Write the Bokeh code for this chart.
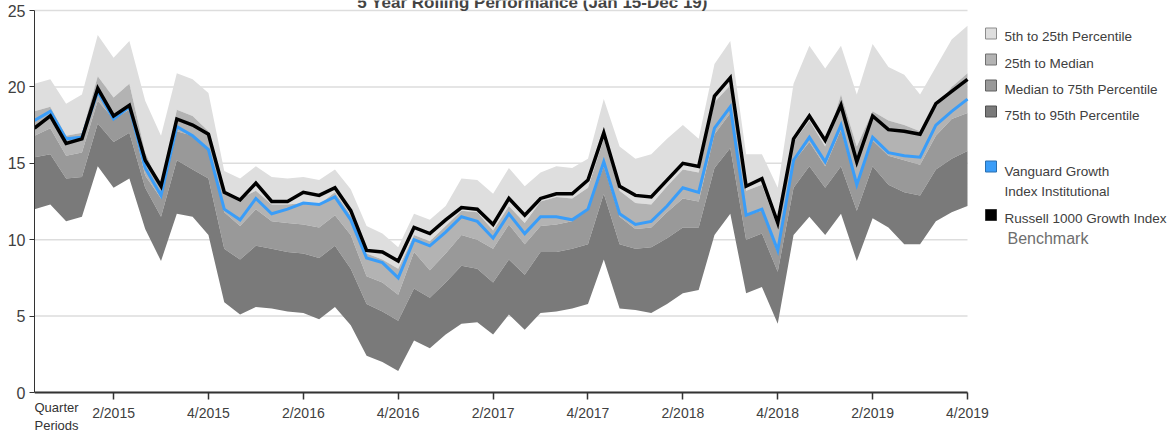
from bokeh.plotting import figure
from bokeh.models import Range1d, FixedTicker, Label, BoxAnnotation, ColumnDataSource
from bokeh.embed import file_html
from bokeh.resources import INLINE

# ---------------- data ----------------
period = list(range(60))  # monthly periods, Jan 2015 .. Dec 2019

p05 = [20.2, 20.5, 18.9, 19.5, 23.4, 21.9, 23.0, 19.1, 16.8, 20.9,
       20.5, 19.6, 14.5, 14.0, 14.8, 14.1, 14.0, 14.1, 13.9, 14.6,
       13.3, 10.9, 10.4, 9.5, 11.7, 11.3, 12.2, 14.0, 13.9, 13.0,
       14.7, 13.5, 14.4, 14.8, 14.7, 15.3, 19.2, 16.1, 15.3, 15.6,
       16.6, 17.5, 16.6, 21.5, 23.0, 15.6, 15.6, 13.4, 20.2, 22.7,
       21.2, 22.7, 19.5, 22.8, 21.3, 20.8, 19.5, 21.3, 23.1, 24.0]
p25 = [18.4, 18.7, 16.8, 17.0, 20.7, 19.3, 20.2, 15.7, 13.4, 18.5,
       18.1, 17.1, 13.1, 12.7, 13.2, 12.3, 12.3, 12.4, 12.3, 13.1,
       11.6, 9.1, 8.7, 8.1, 10.3, 9.9, 10.9, 11.9, 11.8, 10.6,
       12.2, 11.1, 12.5, 12.8, 12.7, 13.4, 16.6, 13.2, 12.4, 12.3,
       13.5, 14.6, 14.4, 19.0, 20.1, 13.2, 13.6, 10.8, 16.4, 17.8,
       16.1, 19.5, 16.1, 18.4, 17.8, 17.5, 17.1, 18.7, 20.0, 20.9]
p50 = [16.8, 17.3, 15.5, 15.7, 19.1, 17.9, 18.5, 14.2, 12.7, 17.1,
       16.8, 15.9, 11.8, 10.9, 12.0, 11.2, 11.1, 11.0, 10.8, 11.6,
       10.3, 7.6, 7.2, 6.4, 9.2, 8.0, 9.1, 10.3, 10.0, 9.4,
       11.0, 9.7, 10.9, 11.0, 11.2, 12.0, 14.8, 11.5, 10.7, 10.8,
       11.8, 12.7, 12.5, 16.9, 18.3, 11.6, 11.9, 9.1, 15.1, 16.4,
       14.8, 17.2, 13.5, 16.5, 15.5, 15.2, 14.9, 16.8, 17.9, 18.3]
p75 = [15.4, 15.6, 14.0, 14.1, 17.6, 16.4, 17.0, 13.4, 11.5, 15.2,
       14.6, 14.0, 9.4, 8.7, 9.6, 9.4, 9.2, 9.1, 8.8, 9.6,
       8.1, 5.8, 5.3, 4.7, 6.8, 6.2, 7.2, 8.3, 8.1, 7.2,
       8.7, 7.7, 9.2, 9.2, 9.4, 9.7, 13.0, 9.7, 9.4, 9.5,
       10.1, 10.8, 10.8, 14.7, 16.0, 10.0, 10.4, 7.9, 13.4, 14.8,
       13.4, 14.8, 11.9, 14.8, 13.6, 13.1, 12.9, 14.6, 15.3, 15.8]
p95 = [12.0, 12.3, 11.2, 11.5, 14.8, 13.4, 14.0, 10.7, 8.6, 11.7,
       11.5, 10.3, 5.9, 5.1, 5.6, 5.5, 5.3, 5.2, 4.8, 5.6,
       4.4, 2.4, 2.0, 1.4, 3.4, 2.9, 3.8, 4.5, 4.6, 3.8,
       5.1, 4.1, 5.2, 5.3, 5.5, 5.8, 8.7, 5.5, 5.4, 5.2,
       5.8, 6.5, 6.7, 10.3, 11.7, 6.5, 6.9, 4.5, 10.3, 11.5,
       10.3, 11.7, 8.6, 11.4, 10.8, 9.7, 9.7, 11.2, 11.8, 12.2]
fund = [17.8, 18.4, 16.6, 16.7, 19.7, 17.9, 18.7, 14.7, 12.9, 17.4,
        16.8, 15.9, 12.0, 11.3, 12.7, 11.7, 12.0, 12.4, 12.3, 12.8,
        11.3, 8.8, 8.5, 7.5, 10.0, 9.6, 10.5, 11.5, 11.2, 10.1,
        11.7, 10.4, 11.5, 11.5, 11.3, 12.0, 15.1, 11.7, 11.0, 11.2,
        12.2, 13.4, 13.1, 17.3, 18.7, 11.6, 12.0, 9.3, 15.2, 16.7,
        15.1, 17.5, 13.6, 16.7, 15.7, 15.5, 15.4, 17.5, 18.4, 19.2]
bench = [17.3, 18.1, 16.3, 16.6, 19.9, 18.1, 18.8, 15.2, 13.5, 17.9,
         17.5, 16.9, 13.1, 12.6, 13.7, 12.5, 12.5, 13.1, 12.9, 13.4,
         11.9, 9.3, 9.2, 8.6, 10.8, 10.4, 11.3, 12.1, 12.0, 11.0,
         12.7, 11.6, 12.7, 13.0, 13.0, 13.9, 17.0, 13.5, 12.9, 12.8,
         13.9, 15.0, 14.8, 19.4, 20.6, 13.5, 14.0, 11.1, 16.6, 18.1,
         16.5, 18.8, 15.1, 18.1, 17.2, 17.1, 16.9, 18.9, 19.7, 20.5]

tick_idx = [5, 11, 17, 23, 29, 35, 41, 47, 53, 59]
tick_labels = ["2/2015", "4/2015", "2/2016", "4/2016", "2/2017",
               "4/2017", "2/2018", "4/2018", "2/2019", "4/2019"]
y_ticks = [0, 5, 10, 15, 20, 25]

band_names = ["5th to 25th Percentile", "25th to Median",
              "Median to 75th Percentile", "75th to 95th Percentile"]
fund_name = ["Vanguard Growth", "Index Institutional"]
bench_name = "Russell 1000 Growth Index"
bench_sub = "Benchmark"
title_text = "5 Year Rolling Performance (Jan 15-Dec 19)"
x_title = ["Quarter", "Periods"]

# ---------------- style / layout ----------------
BAND_COLORS = ["#dedede", "#b3b3b3", "#999999", "#7a7a7a"]
BAND_BORDERS = ["#8c8c8c", "#707070", "#606060", "#505050"]
BLUE = "#3a9df8"
FONT = "Liberation Sans, Arial, sans-serif"
TXT = "#404040"

W, H = 1167, 432
# page pixel geometry of the plotting area (data 0..59 x 0..25)
L_PX, R_PX, T_PX, B_PX = 34, 967, 10, 392
x0, x1 = period[0], period[-1]
y0, y1 = y_ticks[0], y_ticks[-1]
PXX = (R_PX - L_PX) / (x1 - x0)
PXY = (B_PX - T_PX) / (y1 - y0)


def dx(X):  # page x -> data x
    return x0 + (X - L_PX) / PXX


def dy(Y):  # page y -> data y
    return y0 + (B_PX - Y) / PXY


src = ColumnDataSource(dict(x=period, p05=p05, p25=p25, p50=p50, p75=p75,
                            p95=p95, fund=fund, bench=bench))

p = figure(width=W, height=H, output_backend="svg", toolbar_location=None,
           x_range=Range1d(x0, dx(W)), y_range=Range1d(dy(H), dy(0)),
           min_border_left=L_PX, min_border_right=0,
           min_border_top=0, min_border_bottom=0)
p.outline_line_color = None
p.background_fill_color = "white"
p.border_fill_color = "white"
p.xgrid.visible = False
p.ygrid.visible = False

# horizontal gridlines limited to the data extent
p.segment(x0=[x0] * len(y_ticks), x1=[x1] * len(y_ticks), y0=y_ticks, y1=y_ticks,
          line_color="#dddddd", line_width=1.5, level="underlay")

# bands
pairs = [("p25", "p05"), ("p50", "p25"), ("p75", "p50"), ("p95", "p75")]
for (lo, hi), col in zip(pairs, BAND_COLORS):
    p.varea(x="x", y1=lo, y2=hi, source=src, fill_color=col)

p.line("x", "fund", source=src, line_color=BLUE, line_width=3, line_join="miter")
p.line("x", "bench", source=src, line_color="black", line_width=3.5, line_join="miter")

# x axis, drawn at y = 0
xa = p.xaxis[0]
xa.fixed_location = 0
xa.bounds = (x0, x1)
xa.ticker = FixedTicker(ticks=tick_idx)
xa.major_label_overrides = {i: l for i, l in zip(tick_idx, tick_labels)}
xa.major_tick_out = 7
xa.major_tick_in = 0
xa.minor_tick_out = 0
xa.minor_tick_in = 0
xa.axis_line_width = 2
xa.axis_line_color = "#333333"
xa.major_tick_line_color = "#333333"
xa.major_tick_line_width = 1.5
xa.major_label_text_font = FONT
xa.major_label_text_font_size = "14px"
xa.major_label_text_color = TXT
xa.major_label_standoff = 5

ya = p.yaxis[0]
ya.bounds = (y0, y1)
ya.ticker = FixedTicker(ticks=y_ticks)
ya.major_tick_out = 5
ya.major_tick_in = 0
ya.minor_tick_out = 0
ya.minor_tick_in = 0
ya.axis_line_color = "#333333"
ya.major_tick_line_color = "#333333"
ya.major_label_text_font = FONT
ya.major_label_text_font_size = "16px"
ya.major_label_text_color = TXT
ya.major_label_standoff = 4


def label(X, Y, text, size, color=TXT, align="left", baseline="middle", style="normal"):
    p.add_layout(Label(x=dx(X), y=dy(Y), text=text, text_align=align,
                       text_baseline=baseline, text_font=FONT,
                       text_font_size=size, text_font_style=style,
                       text_color=color))


def square(cy, fill, border, X0=985, X1=996, half=5.5):
    p.add_layout(BoxAnnotation(left=dx(X0), right=dx(X1), top=dy(cy - half),
                               bottom=dy(cy + half), fill_color=fill, fill_alpha=1,
                               line_color=border, line_width=1, line_alpha=1))


# title (cut at the top edge, as in the reference)
label(532, 1.5, title_text, "17px", color="#444444", align="center",
      baseline="alphabetic", style="bold")

# x title
label(34, 407, x_title[0], "13px", color="#333333")
label(34, 425, x_title[1], "13px", color="#333333")

# legend
TX = 1004
for name, col, bcol, cy, ty in zip(band_names, BAND_COLORS, BAND_BORDERS,
                                   [33, 59, 85, 111], [35.5, 62.5, 89, 114.5]):
    square(cy, col, bcol)
    label(TX, ty, name, "13.5px")

square(166, BLUE, "#2a6fb0")
label(TX, 170.5, fund_name[0], "13.5px")
label(TX, 191, fund_name[1], "13.5px")

square(214.5, "black", "#333333")
label(TX, 217.5, bench_name, "13.5px")
label(1007, 237.5, bench_sub, "16px", color="#6e6e6e")

open("out.html", "w").write(file_html(p, INLINE))
